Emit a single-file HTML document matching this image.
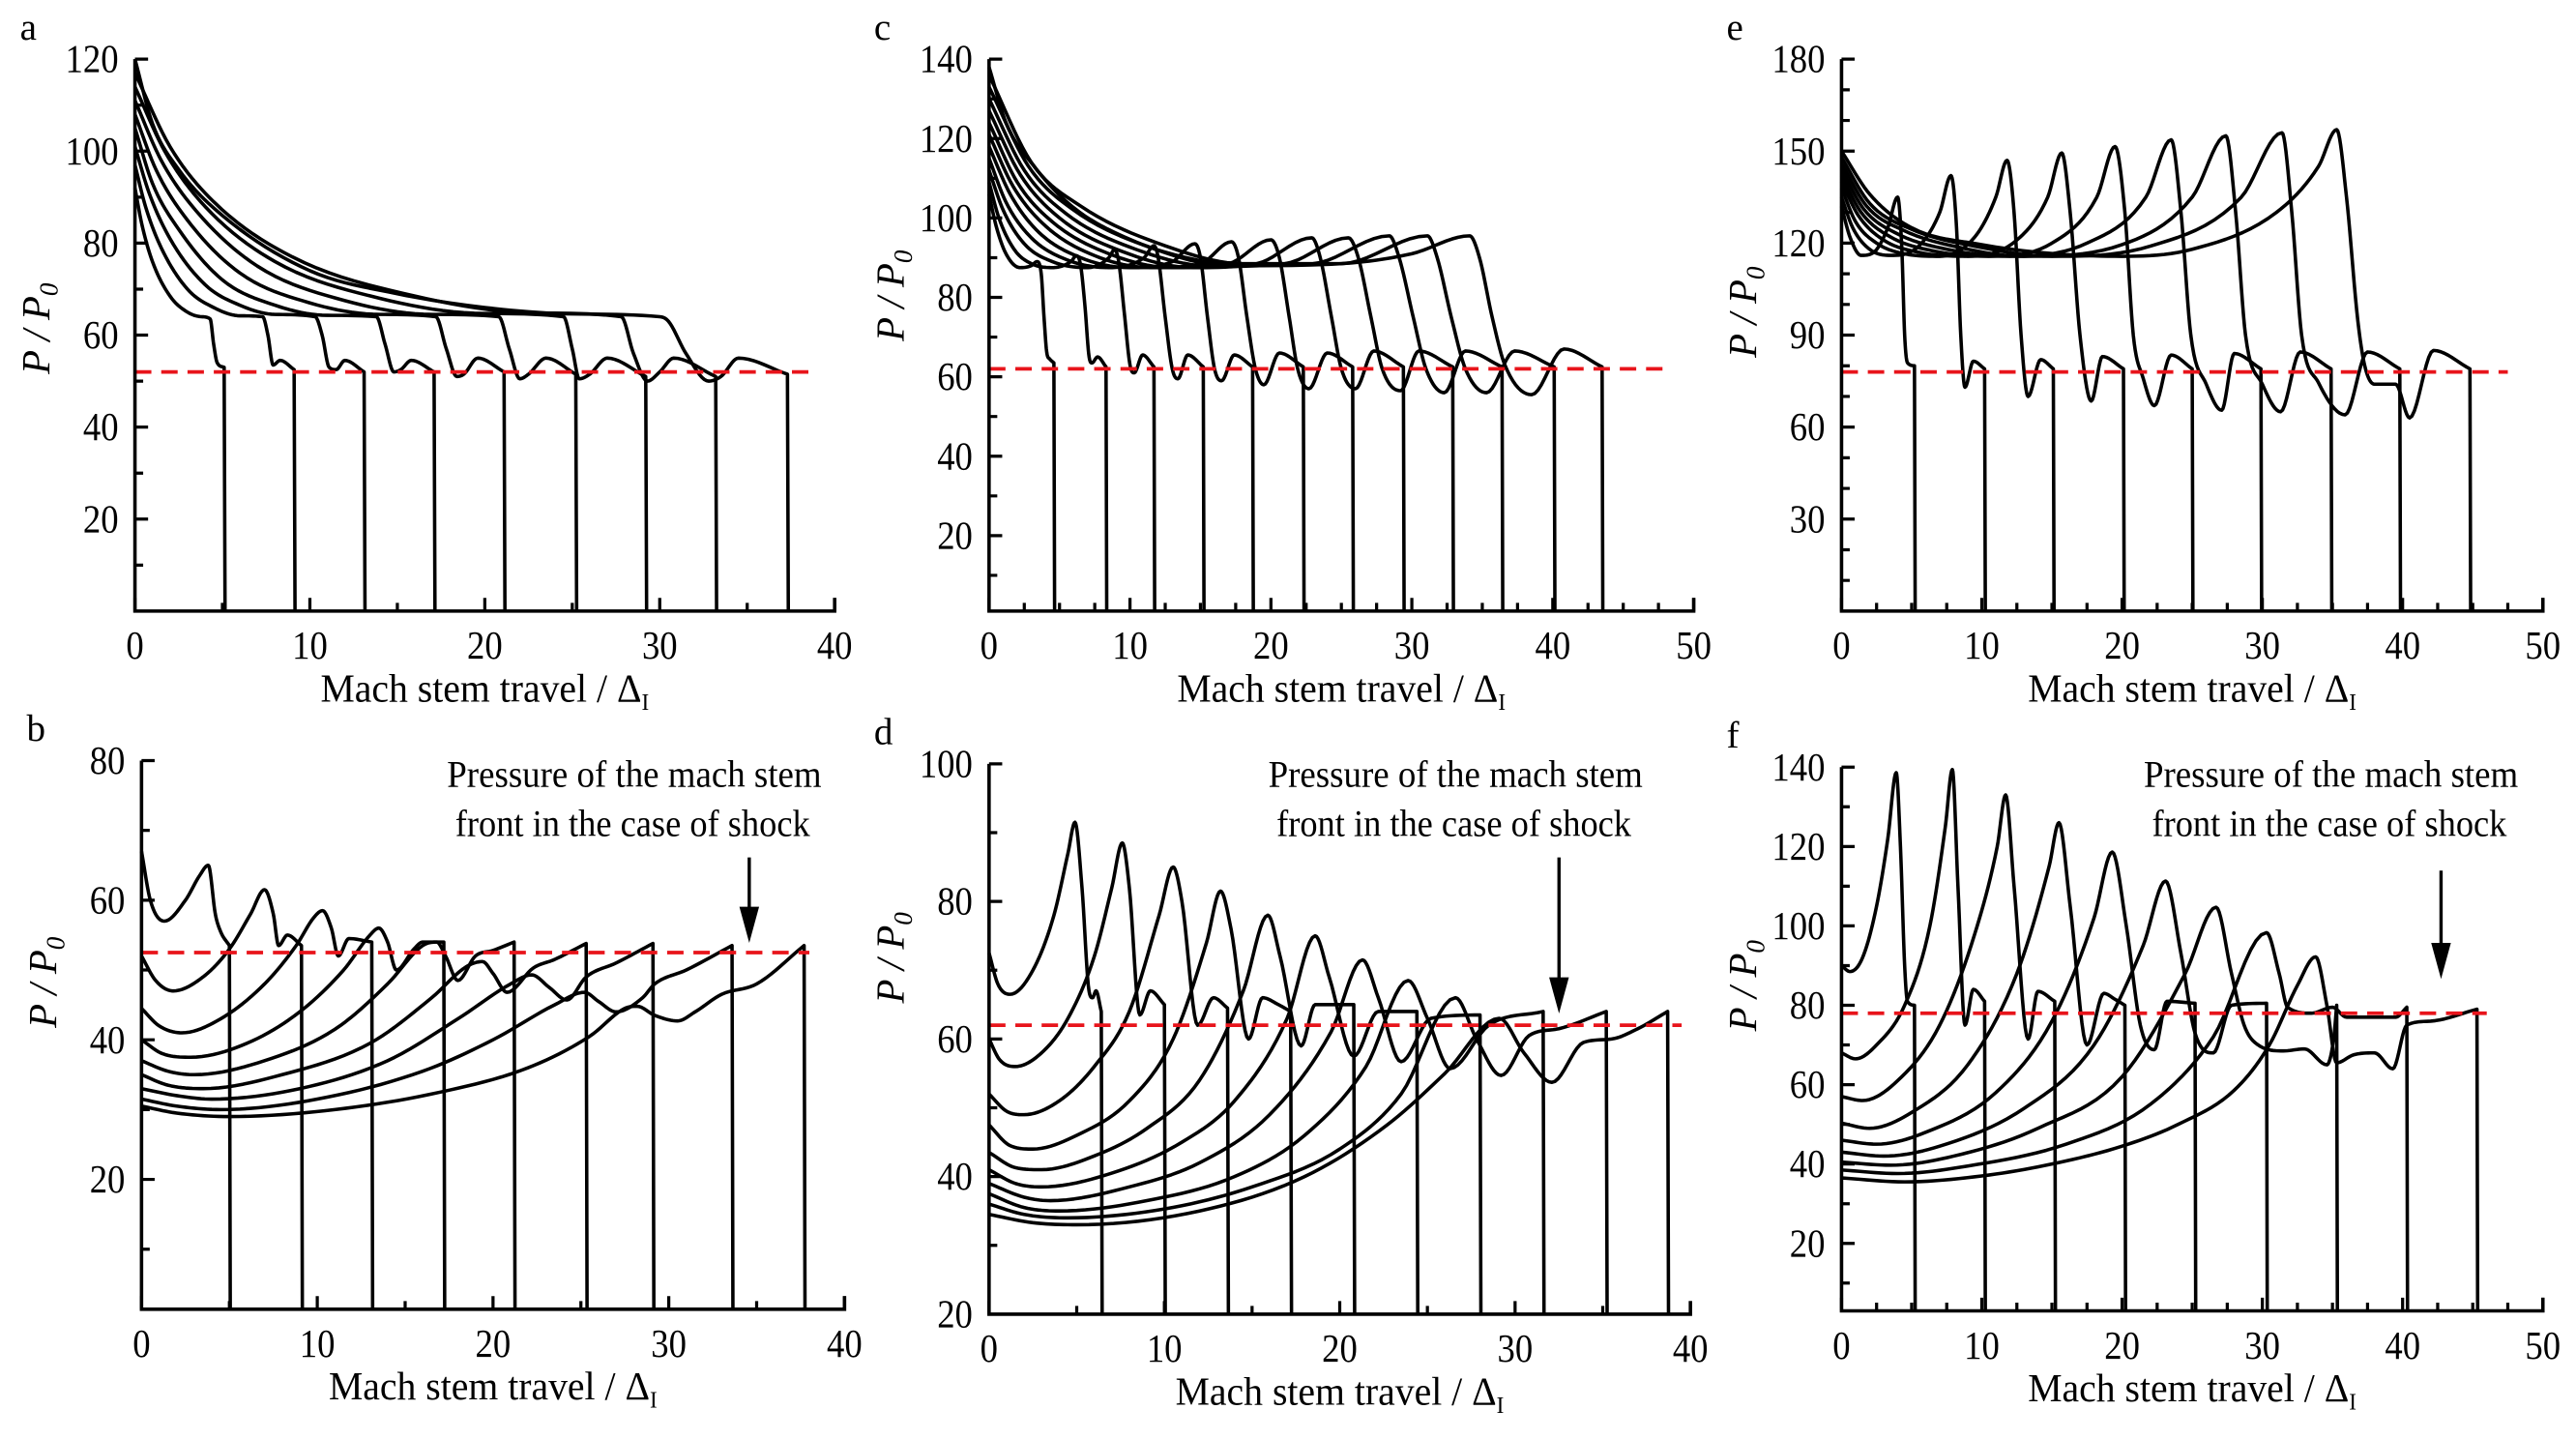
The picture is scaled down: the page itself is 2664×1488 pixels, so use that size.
<!DOCTYPE html>
<html><head><meta charset="utf-8"><title>Mach stem pressure</title>
<style>
html,body{margin:0;padding:0;background:#fff;}
svg{display:block;}
text{font-family:"Liberation Serif","DejaVu Serif",serif;fill:#000;}
</style></head>
<body>
<svg id="fig" width="2664" height="1488" viewBox="0 0 1568 876" xmlns="http://www.w3.org/2000/svg">
<rect x="0" y="0" width="1568" height="876" fill="#fff"/>
</svg>
<script>
// ===== data (x in Mach stem travel, y in P/P0) =====
const redA = 52, redB = 52.5, redC = 62, redD = 62, redE = 78, redF = 78;

const aCurves = [
 [[0,92],[0.4,84],[1,76],[2,68.5],[3,65],[3.8,64],[4.3,63.5],[4.5,58],[4.7,54],[5.1,53]],
 [[0,97],[0.6,88],[1.5,79],[3,70],[4.5,66],[6,64.2],[7.3,64],[7.6,60],[7.9,53.5],[8.3,54.5],[9.1,52.5]],
 [[0,101],[0.8,91],[2,81],[4,71],[6,66.5],[8,64.5],[10.3,64],[10.7,60],[11.1,53],[11.5,52.5],[12,54.5],[13.1,52]],
 [[0,105],[1,93],[2.5,83],[5,72],[8,66.5],[11,64.3],[13.8,64],[14.3,58],[14.8,52],[15.2,52.5],[15.8,54.5],[17.1,52]],
 [[0,108],[1.2,96],[3,85],[6,73.5],[10,67],[14,64.5],[17.2,64],[17.8,57],[18.4,51],[18.8,51.5],[19.6,55],[21.1,52]],
 [[0,111],[1.5,98],[3.5,87],[7,75],[12,67.5],[17,64.5],[20.8,64],[21.4,57],[22,50.5],[22.5,51.5],[23.5,55],[25.2,51.5]],
 [[0,114],[1.7,100],[4,88],[8,76],[14,68],[20,64.7],[24.5,64],[25,57],[25.4,50.5],[26,51.5],[27,55],[29.2,51]],
 [[0,117],[2,101],[4.5,89],[9,77],[16,68.5],[23,64.8],[27.8,64],[28.5,56],[29.3,50],[30,52],[30.8,55],[33.2,51]],
 [[0,120],[1,106],[2.5,96],[5,86],[10,74],[15,69],[20,66],[25,64.6],[30,64],[30.5,63],[31.5,56],[32.8,50],[33.5,51],[34.5,55],[37.3,51.5]]
];
const bCurves = [
 [[0,67],[0.5,60],[1.3,57],[2.5,60],[3.3,63.5],[3.8,65],[4.2,58],[4.5,55.5],[5,53.5]],
 [[0,52],[0.8,48.5],[1.8,47],[3.5,49],[5,53],[6.2,58],[7,61.5],[7.5,58],[7.8,53.5],[8.3,55],[9.1,53.5]],
 [[0,44.5],[1,42],[2.3,41],[4.5,43],[7,48],[8.8,53.5],[9.8,57.5],[10.3,58.5],[10.8,56],[11.2,52],[11.8,54.5],[13.1,54]],
 [[0,40],[1.2,38],[2.8,37.5],[6,39.5],[9,44],[11.5,50],[13,55],[13.5,56],[14,54],[14.5,50],[15.5,53],[16,54],[17.2,54]],
 [[0,37],[1.5,35.5],[3,35],[7,37],[11,41.5],[14,48],[16,53.5],[16.8,54],[17.3,52],[18,48.5],[19,52],[20,52.8],[21.2,54]],
 [[0,35],[1.5,33.5],[3.5,33],[8,35],[13,39.5],[16.5,46],[18.5,50.5],[19.4,51.2],[20,49.5],[20.8,46.8],[22.3,50.3],[23.5,51.5],[25.3,53.8]],
 [[0,33],[2,32],[4,31.5],[9,33],[14,37],[18,43],[21,48],[22.2,49.3],[23.2,47.5],[24.2,45.7],[25.3,49],[27,51],[29.1,53.8]],
 [[0,31.5],[2,30.5],[4.5,30],[10,31.5],[16,35.5],[20,40],[23.5,45],[25.2,46.8],[26,45.5],[27,44],[28.5,46],[29.2,48],[31,50],[33.6,53.5]],
 [[0,30.5],[2,29.5],[5,29],[11,30],[17,32.5],[22,36],[25.5,40.5],[27.5,44.5],[28.2,44.8],[29.2,43.5],[30.5,42.7],[31.5,44],[33,46.5],[35,48],[37.7,53.5]]
];
const cCurves = [
 [[0,106],[0.5,98],[1.2,91],[2.2,87.5],[3,88],[3.4,89],[3.7,86],[3.9,75],[4.1,66],[4.3,64.5],[4.6,63.5]],
 [[0,109],[0.7,100],[1.8,92],[3,88.5],[4.5,87.5],[5.8,89],[6.2,90.5],[6.5,88],[6.8,78],[7.1,65],[7.3,63.5],[7.7,65],[8.3,62.5]],
 [[0,112],[1,102],[2.5,93.5],[4.5,89],[7,87.5],[8.5,90],[8.9,92],[9.2,89],[9.6,76],[10,63],[10.3,61],[10.9,65.5],[11.7,62.5]],
 [[0,115],[1.2,104],[3,95],[5.5,89.5],[8.5,87.5],[11,90],[11.7,93],[12,90],[12.5,75],[13,62],[13.4,59.5],[14.1,65.5],[15.2,62.5]],
 [[0,118],[1.5,106],[3.5,96.5],[6.5,90],[10,87.5],[13,89],[14.6,93.5],[15,90],[15.5,75],[16,62],[16.5,59],[17.4,65.5],[18.7,62.5]],
 [[0,121],[1.7,108],[4,98],[7.5,90.5],[11.5,87.5],[15,88.5],[17.2,94],[17.7,90],[18.3,75],[18.9,62],[19.5,58],[20.6,66],[22.3,62.5]],
 [[0,124],[2,109],[4.5,99],[8.5,91],[13,87.5],[17,88.5],[20,94.5],[20.6,90],[21.3,75],[21.9,62],[22.7,57],[24,66],[25.8,62.5]],
 [[0,127],[2.2,111],[5,100],[9.5,91.5],[14.5,87.5],[19,88.5],[22.9,95],[23.5,90],[24.3,75],[25,62],[26,57],[27.3,66.5],[29.4,62.5]],
 [[0,130],[2.5,112],[5.5,101],[10.5,92],[16,87.8],[21,88.5],[25.5,95],[26.2,90],[27.1,75],[27.9,62],[29.2,56.5],[30.5,66.5],[32.9,62.5]],
 [[0,133],[2.8,113],[6,102],[11.5,92.5],[17,88],[23,88.5],[28.4,95.5],[29.1,90],[30.1,75],[31,62],[32.3,56],[33.8,66.5],[36.4,62.5]],
 [[0,136],[3,114],[6.5,103],[12.5,93],[18,88.5],[25,88.5],[31.1,95.5],[31.8,90],[32.8,75],[33.8,62],[35.3,56],[37.3,66.5],[40.1,62.5]],
 [[0,138],[1.2,124],[3.2,113],[6,102.6],[10,94.6],[14,90],[18,88],[25,88.5],[30,91],[34.1,95.5],[34.8,90],[35.7,75],[36.6,63],[38.5,55.5],[40.8,67],[43.5,62.5]]
];
const dCurves = [
 [[0,72.5],[0.5,68],[1.2,66.5],[2.5,70],[3.7,78],[4.5,87],[4.9,91.5],[5.3,82],[5.7,67],[5.9,66],[6.1,67],[6.4,64]],
 [[0,60],[0.6,57],[1.5,56],[3,58],[4.5,63],[6,72],[7,82],[7.6,88.5],[8,82],[8.6,63.5],[9.2,67],[10,65]],
 [[0,52],[1,49.5],[2,49],[4,51],[6,56],[8,64],[9.7,78],[10.5,85],[11,80],[11.9,62],[12.8,66],[13.6,64.5]],
 [[0,47.5],[1.2,44.5],[2.5,44],[5,46],[8,51],[10.5,60],[12.4,74],[13.2,81.5],[13.8,76],[14.8,60],[15.6,66],[16.5,65],[17.2,64]],
 [[0,43.5],[1.5,41.3],[3,41],[6,43],[9,47],[12,54],[14.5,67],[15.9,78],[16.6,72],[17.8,59],[18.6,65],[20.8,65]],
 [[0,41],[1.5,39],[3,38.5],[7,40.5],[11,45],[14,51],[17,63],[18.6,75],[19.4,69],[20.8,57.5],[22.2,64],[24.4,64]],
 [[0,39],[2,37],[3.5,36.5],[8,38.5],[12,42],[16,49],[19.5,61],[21.3,71.5],[22.2,66],[23.5,56.7],[25.2,63],[28,63.5]],
 [[0,37.5],[2,35.5],[4,35],[9,36.5],[14,40],[18,46],[21.5,56],[23.9,68.5],[25,63],[26.3,55.7],[28.5,62],[31.6,64]],
 [[0,36],[2,34.5],[4.5,34],[10,35.3],[15,38.5],[20,44],[23.5,52],[26.6,66],[27.8,60],[29.2,54.7],[30.8,60.5],[32.5,61.5],[35.2,64]],
 [[0,34.5],[2.5,33.3],[5,33],[12,35],[18,40],[22.7,47.5],[26,55],[29.1,63],[30.5,58],[32.1,53.7],[33.9,59.5],[35.5,60],[37,61.5],[38.7,64]]
];
const eCurves = [
 [[0,132],[0.6,122],[1.4,116],[2.3,117],[3.3,125],[4.0,135],[4.3,118],[4.5,90],[4.7,81],[5.2,80]],
 [[0,135],[0.8,125],[2,118],[3.5,116],[5.5,119],[7,130],[7.8,142],[8.2,125],[8.5,90],[8.8,73],[9.4,81.5],[10.2,79]],
 [[0,138],[1,127],[2.5,120],[4.5,116.5],[7,115.7],[9.5,122],[11,135],[11.8,147],[12.3,130],[12.8,90],[13.3,70],[14.2,82],[15.1,79]],
 [[0,140],[1.2,129],[3,121],[5.5,117],[9,115.7],[12.5,121],[14.7,135],[15.7,149.4],[16.3,130],[17,90],[17.8,68.5],[18.6,83],[20.1,79]],
 [[0,142],[1.4,130],[3.5,122],[6.5,117.5],[10.5,115.7],[15,120],[18.2,135],[19.5,151.5],[20.2,130],[20.8,90],[21.5,76],[22.3,67],[23.5,83.5],[25,79]],
 [[0,144],[1.6,131],[4,123],[7.5,118],[12,115.7],[17.5,120],[21.7,135],[23.5,153.7],[24.2,130],[24.9,90],[26,74],[27.1,65.5],[28,84],[29.9,79]],
 [[0,146],[1.8,132],[4.5,124],[8.5,118.5],[13,115.7],[20,119.5],[25,135],[27.4,155],[28.1,130],[28.8,90],[30,74],[31.3,65],[32.7,84.5],[34.9,79]],
 [[0,148],[2,133],[5,124.5],[9.5,119],[15,115.7],[22,119],[28.5,135],[31.4,156],[32.1,130],[32.8,90],[34,74.5],[35.9,64],[37.5,84.5],[39.8,79]],
 [[0,150],[2,136],[5,125],[10,119.5],[15,116.6],[20,115.7],[25,118],[31,130],[34,145],[35.3,157],[36,135],[36.8,95],[37.3,80],[38,74],[39.5,74],[40.5,63],[42.2,85],[44.8,79]]
];
const fCurves = [
 [[0,90],[0.6,88.5],[1.5,92],[2.5,105],[3.3,122],[3.9,138.6],[4.2,120],[4.5,90],[4.7,81],[5.2,80]],
 [[0,68],[1,66.5],[2.5,70],[4.5,80],[6.3,100],[7.4,125],[7.9,139.4],[8.3,110],[8.8,75],[9.4,84],[10.2,81]],
 [[0,57],[1.5,56],[4,61],[7,75],[9.5,98],[11.1,120],[11.7,133],[12.3,110],[13.3,71.5],[14,83.5],[15.2,81]],
 [[0,50.3],[2,49],[5,53],[9,65],[12.5,88],[14.8,115],[15.5,126],[16.3,105],[17.5,70],[18.7,83],[19.5,81.5],[20.2,80]],
 [[0,46],[2.5,45],[6,48],[11,58],[15,76],[18,102],[19.3,118.6],[20.3,100],[21.3,75],[22.3,68.8],[23.2,81],[25.2,80.5]],
 [[0,43],[3,42],[7,44.5],[13,54],[18,70],[21.5,95],[23.1,111.3],[24.2,93],[25.2,73],[26.5,68],[27.8,80],[30.3,80.5]],
 [[0,40.5],[3.5,39.7],[8,42],[14,49],[20,62],[24.5,88],[26.7,104.7],[27.8,88],[28.7,75],[29.7,70],[31.5,68.5],[33,69],[34.6,65],[35.1,72],[35.3,80]],
 [[0,38.5],[4,37.6],[9,39.5],[16,45],[22,55],[26.5,72],[30.3,98.3],[31.2,88],[31.8,79.5],[33.5,78],[35,79.5],[36,77],[39.5,77],[40.3,79.5]],
 [[0,36.5],[4.5,35.5],[10,37],[15,40],[20,44.5],[24,50],[28,58.6],[30.5,70],[32.5,85],[33.8,92.2],[34.6,80],[35.3,65.5],[36.5,67.5],[38,68],[39.3,64],[40.3,75],[42,76],[45.3,79]]
];

const xTicksA = [0,10,20,30,40], xTicksB = [0,10,20,30,40], xTicksC = [0,10,20,30,40,50];
const xTicksD = [0,10,20,30,40], xTicksE = [0,10,20,30,40,50], xTicksF = [0,10,20,30,40,50];
const yTicksA = [20,40,60,80,100,120], yTicksB = [20,40,60,80], yTicksC = [20,40,60,80,100,120,140];
const yTicksD = [20,40,60,80,100], yTicksE = [30,60,90,120,150,180], yTicksF = [20,40,60,80,100,120,140];

// ===== layout =====
const panels = [
 {id:'a', curves:aCurves, red:redA, redEnd:39, xTicks:xTicksA, yTicks:yTicksA, x0:82, x1:508, xMax:40, xMinor:5, yTop:36, yBot:372, vTop:120, vBot:0, ttlY:200, note:null},
 {id:'b', curves:bCurves, red:redB, redEnd:38, xTicks:xTicksB, yTicks:yTicksB, x0:86, x1:514, xMax:40, xMinor:5, yTop:463, yBot:797, vTop:80, vBot:1.4, ttlY:598, note:{cx:386, arrowX:456, a0:522, a1:574}},
 {id:'c', curves:cCurves, red:redC, redEnd:48, xTicks:xTicksC, yTicks:yTicksC, x0:602, x1:1031, xMax:50, xMinor:2.5, yTop:36, yBot:372, vTop:140, vBot:1, ttlY:180, note:null},
 {id:'d', curves:dCurves, red:redD, redEnd:39.5, xTicks:xTicksD, yTicks:yTicksD, x0:602, x1:1029, xMax:40, xMinor:5, yTop:465, yBot:800, vTop:100, vBot:20, ttlY:583, note:{cx:886, arrowX:949, a0:522, a1:617}},
 {id:'e', curves:eCurves, red:redE, redEnd:47.5, xTicks:xTicksE, yTicks:yTicksE, x0:1121, x1:1548, xMax:50, xMinor:2.5, yTop:36, yBot:372, vTop:180, vBot:0, ttlY:190, note:null},
 {id:'f', curves:fCurves, red:redF, redEnd:46, xTicks:xTicksF, yTicks:yTicksF, x0:1121, x1:1548, xMax:50, xMinor:2.5, yTop:467, yBot:798, vTop:140, vBot:3, ttlY:600, note:{cx:1419, arrowX:1486, a0:530, a1:596}}
];

const svg = document.getElementById('fig');
const NSU = svg.namespaceURI;
function mk(tag, attrs, parent){
  const e = document.createElementNS(NSU, tag);
  for (const k in attrs) e.setAttribute(k, attrs[k]);
  (parent||svg).appendChild(e);
  return e;
}
function mono(pts){
  const n = pts.length, xs = pts.map(p=>p[0]), ys = pts.map(p=>p[1]);
  const d = [], m = [];
  for (let i=0;i<n-1;i++) d.push((ys[i+1]-ys[i])/(xs[i+1]-xs[i]));
  m[0]=d[0]; m[n-1]=d[n-2];
  for (let i=1;i<n-1;i++) m[i] = (d[i-1]*d[i]<=0) ? 0 : (d[i-1]+d[i])/2;
  for (let i=0;i<n-1;i++){
    if (d[i]===0){m[i]=0;m[i+1]=0;continue;}
    const a=m[i]/d[i], b=m[i+1]/d[i], s=a*a+b*b;
    if (s>9){const t=3/Math.sqrt(s); m[i]=t*a*d[i]; m[i+1]=t*b*d[i];}
  }
  const out=[];
  for (let i=0;i<n-1;i++){
    const h=xs[i+1]-xs[i];
    for (let k=0;k<10;k++){
      const t=k/10, t2=t*t, t3=t2*t;
      const y=(2*t3-3*t2+1)*ys[i]+(t3-2*t2+t)*h*m[i]+(-2*t3+3*t2)*ys[i+1]+(t3-t2)*h*m[i+1];
      out.push([xs[i]+t*h, y]);
    }
  }
  out.push([xs[n-1], ys[n-1]]);
  return out;
}

panels.forEach(P=>{
  const g = mk('g', {});
  
  
  const X = v => P.x0 + v*(P.x1-P.x0)/P.xMax;
  const Y = v => P.yBot - (v-P.vBot)*(P.yBot-P.yTop)/(P.vTop-P.vBot);

  const cg = mk('g', {fill:'none', stroke:'#000', 'stroke-width':2.1, 'stroke-linejoin':'round'}, g);
  P.curves.forEach((c, i)=>{
    const s = mono(c);
    let d = 'M'+s.map(p=>X(p[0]).toFixed(2)+','+Y(Math.max(p[1],P.vBot)).toFixed(2)).join('L');
    const last = c[c.length-1];
    d += 'L'+X(last[0]+0.05).toFixed(2)+','+P.yBot;
    const pe = mk('path', {d:d}, cg);
    
    
  });

  const rl = mk('line', {x1:P.x0, x2:X(P.redEnd), y1:Y(P.red), y2:Y(P.red), stroke:'#e8141b', 'stroke-width':2.2, 'stroke-dasharray':'10 6'}, g);
  
  

  const ax = mk('path', {d:'M'+P.x0+','+P.yTop+'L'+P.x0+','+P.yBot+'L'+P.x1+','+P.yBot+'L'+P.x1+','+(P.yBot-8), fill:'none', stroke:'#000', 'stroke-width':2.1}, g);
  
  
  let td = '';
  for (let v=0; v<=P.xMax+1e-6; v+=P.xMinor){
    const major = Math.abs(v/10-Math.round(v/10))<1e-6;
    td += 'M'+X(v)+','+P.yBot+'L'+X(v)+','+(P.yBot-(major?8:5));
  }
  for (let v=Math.ceil(P.vBot/10)*10; v<=P.vTop+1e-6; v+=10){
    if (v<=P.vBot+0.5) continue;
    const major = P.yTicks.indexOf(v)>=0;
    td += 'M'+P.x0+','+Y(v)+'L'+(P.x0+(major?8:5))+','+Y(v);
  }
  const tk = mk('path', {d:td, stroke:'#000', 'stroke-width':1.9, fill:'none'}, g);
  
  

  P.xTicks.forEach(v=>{
    const t = mk('text', {x:0, y:0, transform:'translate('+X(v)+','+(P.yBot+29)+') scale(0.9,1)', 'text-anchor':'middle', 'font-size':24}, g);
    t.textContent = v;
    
    
  });
  P.yTicks.forEach(v=>{
    const t = mk('text', {x:0, y:0, transform:'translate('+(P.x0-10)+','+(Y(v)+8)+') scale(0.9,1)', 'text-anchor':'end', 'font-size':24}, g);
    t.textContent = v;
    
    
  });

  const xt = mk('text', {x:(P.x0+P.x1)/2, y:P.yBot+55, 'text-anchor':'middle', 'font-size':24, textLength:200, lengthAdjust:'spacingAndGlyphs'}, g);
  
  
  xt.appendChild(document.createTextNode('Mach stem travel / \u0394'));
  const sub = mk('tspan', {'font-size':14, dy:5}, xt); sub.textContent='I';

  const yx = P.x0-52;
  const yt = mk('text', {x:0, y:0, transform:'translate('+yx+','+P.ttlY+') rotate(-90)', 'text-anchor':'middle', 'font-size':24, 'font-style':'italic'}, g);
  
  
  yt.appendChild(document.createTextNode('P / P'));
  const s0 = mk('tspan', {'font-size':16, dy:5}, yt); s0.textContent='0';

  const pl = mk('text', {x:P.x0-70, y:P.yTop-12, 'font-size':23}, g);
  pl.textContent = P.id;
  
  

  if (P.note){
    const n1 = mk('text', {x:P.note.cx, y:479, 'text-anchor':'middle', 'font-size':23, textLength:228, lengthAdjust:'spacingAndGlyphs'}, g);
    n1.textContent = 'Pressure of the mach stem';
    
    
    const n2 = mk('text', {x:P.note.cx-1, y:509, 'text-anchor':'middle', 'font-size':23, textLength:216, lengthAdjust:'spacingAndGlyphs'}, g);
    n2.textContent = 'front in the case of shock';
    
    
    const ar = mk('line', {x1:P.note.arrowX, x2:P.note.arrowX, y1:P.note.a0, y2:P.note.a1-14, stroke:'#000', 'stroke-width':2}, g);
    
    
    const ah = mk('path', {d:'M'+(P.note.arrowX-6)+','+(P.note.a1-22)+'L'+(P.note.arrowX+6)+','+(P.note.a1-22)+'L'+P.note.arrowX+','+P.note.a1+'Z', fill:'#000'}, g);
    
    
  }
});
</script>
</body></html>
